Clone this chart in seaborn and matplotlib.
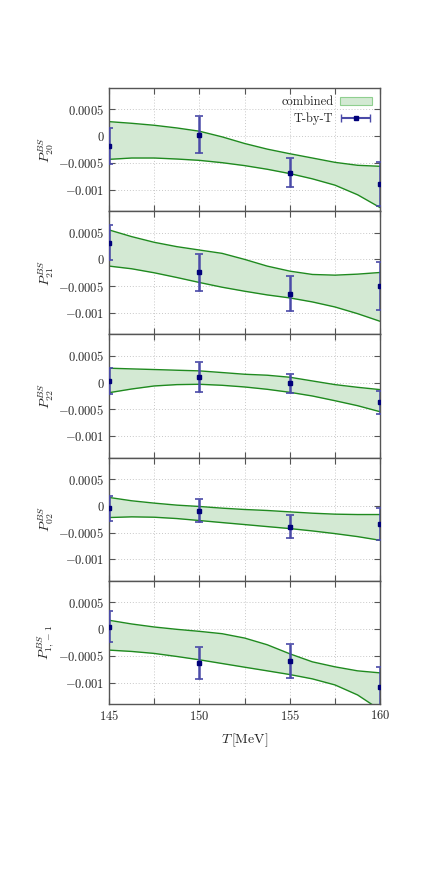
import numpy as np
import pandas as pd
import seaborn as sns
import matplotlib.pyplot as plt
from matplotlib.patches import Patch
from matplotlib.legend_handler import HandlerErrorbar
from matplotlib.ticker import FuncFormatter

# temperatures of the band read-off and of the T-by-T points
T_band = [145, 146.25, 147.5, 148.75, 150, 151.25, 152.5, 153.75, 155, 156.25, 157.5, 158.75, 160]
T_pts = [145, 150, 155, 160]

labels = [r"$P^{BS}_{20}$", r"$P^{BS}_{21}$", r"$P^{BS}_{22}$", r"$P^{BS}_{02}$", r"$P^{BS}_{1,-1}$"]

# combined band: upper / lower edges
up_20 = [0.000272, 0.000241, 0.000204, 0.000154, 0.000093, -0.000012, -0.000136, -0.000241, -0.000327, -0.000407, -0.000488, -0.000543, -0.000562]
lo_20 = [-0.000432, -0.000407, -0.000407, -0.000426, -0.000451, -0.000494, -0.000549, -0.000617, -0.000698, -0.000796, -0.000914, -0.001093, -0.001333]
up_21 = [0.00055, 0.000425, 0.000319, 0.000238, 0.000175, 0.000113, 0.0, -0.000125, -0.000219, -0.000281, -0.000294, -0.000275, -0.000244]
lo_21 = [-0.000125, -0.000175, -0.00025, -0.000338, -0.000431, -0.000519, -0.000594, -0.000663, -0.000719, -0.000794, -0.000888, -0.001013, -0.001156]
up_22 = [0.000269, 0.000256, 0.000244, 0.000231, 0.000219, 0.000188, 0.000156, 0.000138, 0.0001, 0.000031, -0.0000375, -0.0000875, -0.000131]
lo_22 = [-0.000188, -0.000119, -0.0000625, -0.0000375, -0.0000313, -0.00005, -0.0000813, -0.000125, -0.000181, -0.00025, -0.000338, -0.000431, -0.000544]
up_02 = [0.000156, 0.0000938, 0.00005, 0.0000125, -0.0000125, -0.0000438, -0.0000688, -0.0000875, -0.000113, -0.000138, -0.000156, -0.000163, -0.000163]
lo_02 = [-0.000219, -0.000206, -0.000213, -0.000238, -0.000275, -0.000313, -0.00035, -0.000388, -0.000425, -0.000469, -0.000519, -0.000575, -0.000644]
up_1m1 = [0.000163, 0.0000938, 0.0000375, -0.00000625, -0.0000438, -0.0000875, -0.000169, -0.000294, -0.000463, -0.000613, -0.000706, -0.000781, -0.000819]
lo_1m1 = [-0.000394, -0.000419, -0.000456, -0.000513, -0.000575, -0.000644, -0.000713, -0.000781, -0.00085, -0.000931, -0.001044, -0.001231, -0.00151]

# T-by-T points and errors
val_20 = [-0.000179, 0.00003, -0.000685, -0.000895]
err_20 = [0.00034, 0.00034, 0.00027, 0.00041]
val_21 = [0.00031, -0.00024, -0.00064, -0.00049]
err_21 = [0.00033, 0.00035, 0.00033, 0.00045]
val_22 = [0.00003, 0.0001, -0.00001, -0.00037]
err_22 = [0.00025, 0.00028, 0.00018, 0.00022]
val_02 = [-0.00005, -0.00009, -0.00039, -0.00034]
err_02 = [0.00023, 0.00021, 0.00022, 0.00029]
val_1m1 = [0.00004, -0.00063, -0.0006, -0.00109]
err_1m1 = [0.00029, 0.0003, 0.00032, 0.00038]

bands = [(up_20, lo_20), (up_21, lo_21), (up_22, lo_22), (up_02, lo_02), (up_1m1, lo_1m1)]
points = [(val_20, err_20), (val_21, err_21), (val_22, err_22), (val_02, err_02), (val_1m1, err_1m1)]

sns.set_theme(style="ticks")
plt.rcParams["font.family"] = ["cmr10", "DejaVu Serif"]
plt.rcParams["mathtext.fontset"] = "cm"
plt.rcParams["axes.formatter.use_mathtext"] = True

green = "#1f8a1f"
fill = "#d3e9d3"
bar_col = "#4a4aa8"
pt_col = "#00007a"

fig = plt.figure(figsize=(4.4, 8.8), dpi=100)
axes = fig.subplots(5, 1, sharex=True, gridspec_kw=dict(hspace=0))
fig.subplots_adjust(left=0.248, right=0.864, bottom=0.2, top=0.9)

yfmt = FuncFormatter(lambda v, p: "$0$" if abs(v) < 1e-12 else "$%s$" % ("%g" % v))
xfmt = FuncFormatter(lambda v, p: "$%d$" % v if abs(v - round(v)) < 1e-6 and int(round(v)) % 5 == 0 else "")

for i, ax in enumerate(axes):
    up, lo = bands[i]
    val, err = points[i]
    df = pd.DataFrame({"T": T_band, "up": up, "lo": lo})
    ax.fill_between(df["T"], df["lo"], df["up"], color=fill, lw=0, zorder=1)
    sns.lineplot(data=df, x="T", y="up", color=green, lw=1.0, ax=ax, zorder=2)
    sns.lineplot(data=df, x="T", y="lo", color=green, lw=1.0, ax=ax, zorder=2)
    ax.errorbar(T_pts, val, yerr=err, fmt="s", ms=3, color=pt_col, ecolor=bar_col,
                elinewidth=1.8, capsize=3, capthick=1.2, zorder=4, clip_on=True)

    ax.set_xlim(145, 160)
    ax.set_ylim(-0.0014, 0.0009)
    ax.set_xticks(np.arange(145, 160.1, 2.5))
    ax.set_yticks([0.0005, 0, -0.0005, -0.001])
    ax.yaxis.set_major_formatter(yfmt)
    ax.xaxis.set_major_formatter(xfmt)
    ax.grid(True, color="#c8c8c8", ls=(0, (1, 2)), lw=0.7)
    ax.tick_params(direction="in", top=True, right=True, length=4, width=0.8,
                   labelsize=9, color="#555555")
    for s in ax.spines.values():
        s.set_color("#555555")
        s.set_linewidth(1.0)
    ax.set_ylabel(labels[i], fontsize=10, labelpad=2)
    ax.set_xlabel("")

axes[-1].set_xlabel(r"$T\,[\mathrm{MeV}]$", fontsize=10, labelpad=6)

# legend in the top panel: patch for the band and a horizontal errorbar for the points
dummy = axes[0].errorbar([np.nan], [np.nan], xerr=[1], fmt="s", ms=3, color=pt_col,
                         ecolor=bar_col, elinewidth=1.5, capsize=3)
band_patch = Patch(facecolor=fill, edgecolor="#8fcf8f", lw=0.8)
axes[0].legend([band_patch, dummy], ["combined", "T-by-T"], loc="upper right",
               frameon=False, markerfirst=False, fontsize=9, handlelength=2.6,
               handleheight=0.6, borderaxespad=0.25, labelspacing=0.35, handletextpad=0.5,
               handler_map={type(dummy): HandlerErrorbar(xerr_size=1.15)})

fig.savefig("out.png", dpi=100)
